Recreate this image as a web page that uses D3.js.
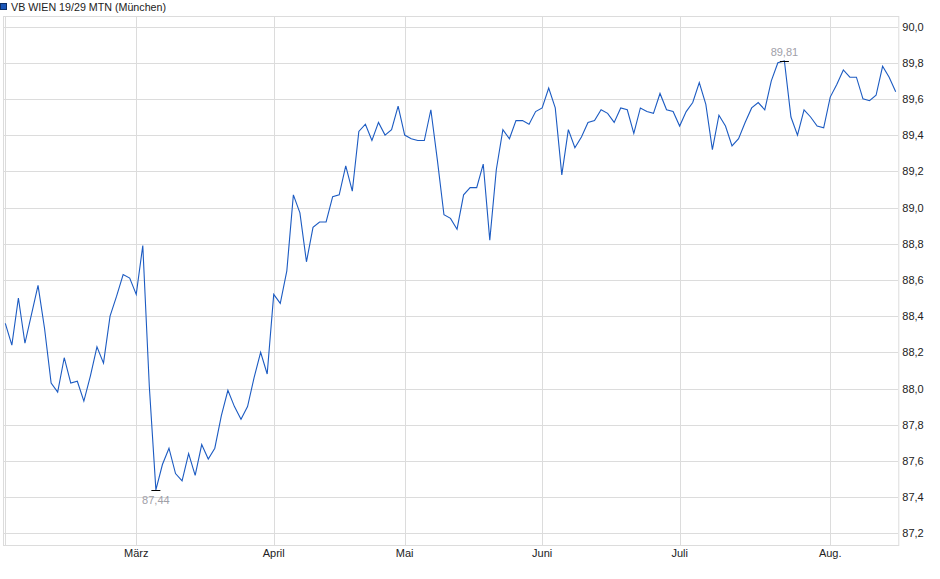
<!DOCTYPE html>
<html><head><meta charset="utf-8">
<script src="https://cdn.jsdelivr.net/npm/d3@7"></script>
<style>
html,body{margin:0;padding:0;background:#fff;}
svg{display:block;font-family:Arial,"Liberation Sans",sans-serif;}
</style></head>
<body>
<svg id="chart" width="940" height="579"></svg>
<script>
const title = "VB WIEN 19/29 MTN (München)";
// daily prices (trading days, Feb 3 – Aug 15)
const prices = [
88.36,88.24,88.50,88.25,88.41,88.57,88.33,88.03,87.98,88.17,
88.03,88.04,87.93,88.07,88.23,88.14,88.40,88.51,88.63,88.61,
88.52,88.79,88.01,87.44,87.58,87.67,87.53,87.49,87.64,87.52,
87.69,87.61,87.67,87.85,87.99,87.90,87.83,87.90,88.06,88.20,
88.08,88.52,88.47,88.65,89.07,88.97,88.70,88.89,88.92,88.92,
89.06,89.07,89.23,89.09,89.42,89.46,89.37,89.47,89.40,89.43,
89.56,89.40,89.38,89.37,89.37,89.54,89.26,88.96,88.94,88.88,
89.07,89.11,89.11,89.24,88.82,89.21,89.43,89.38,89.48,89.48,
89.46,89.53,89.55,89.66,89.55,89.18,89.43,89.33,89.39,89.47,
89.48,89.54,89.52,89.47,89.55,89.54,89.41,89.55,89.53,89.52,
89.63,89.54,89.53,89.45,89.53,89.58,89.69,89.57,89.32,89.51,
89.45,89.34,89.38,89.47,89.55,89.58,89.54,89.70,89.80,89.81,
89.50,89.40,89.54,89.50,89.45,89.44,89.61,89.68,89.76,89.72,
89.72,89.60,89.59,89.62,89.78,89.72,89.64
];
// month gridlines: index of first trading day of each month
const monthIdx    = [0, 20, 41, 61, 82, 103, 126];
const monthLabels = ["", "März", "April", "Mai", "Juni", "Juli", "Aug."];
const yTicks = [87.2,87.4,87.6,87.8,88.0,88.2,88.4,88.6,88.8,89.0,89.2,89.4,89.6,89.8,90.0];

const svg = d3.select("#chart");
const plot = {left:3, right:898.3, top:16, bottom:545};
const x = d3.scaleLinear().domain([0, prices.length-1]).range([5.3, 895.7]);
const y = d3.scaleLinear().domain([87.2, 90.0]).range([533.3, 26.5]);
const fmt = v => d3.format(".1f")(v).replace(".", ",");
const fmt2 = v => d3.format(".2f")(v).replace(".", ",");
const grid = "#dcdcdc";

// title
svg.append("rect").attr("x",0.5).attr("y",3.5).attr("width",6).attr("height",6)
  .attr("fill","#1a56b8").attr("stroke","#0d2f66").attr("stroke-width",1);
svg.append("text").attr("x",11).attr("y",10.5).attr("font-size",10.7).attr("fill","#222").text(title);

// plot border
svg.append("rect").attr("x",plot.left+0.5).attr("y",plot.top+0.5)
  .attr("width",plot.right-plot.left).attr("height",plot.bottom-plot.top)
  .attr("fill","none").attr("stroke",grid);

// horizontal grid
const yAxis = d3.axisRight(y).tickValues(yTicks).tickSize(-(plot.right-plot.left)).tickFormat(fmt).tickPadding(4);
const gy = svg.append("g").attr("transform",`translate(${plot.right},0)`).call(yAxis);
gy.select(".domain").remove();
gy.selectAll(".tick line").attr("stroke",grid).attr("shape-rendering","crispEdges");
gy.selectAll(".tick text").attr("font-size",11).attr("fill","#222").attr("font-family","Arial, 'Liberation Sans', sans-serif");

// vertical grid + month labels
const gx = svg.append("g");
gx.selectAll("line").data(monthIdx).join("line")
  .attr("x1",d=>Math.round(x(d))+0.5).attr("x2",d=>Math.round(x(d))+0.5)
  .attr("y1",plot.top).attr("y2",plot.bottom)
  .attr("stroke",grid);
gx.selectAll("text").data(monthIdx).join("text")
  .attr("x",d=>x(d)).attr("y",557).attr("text-anchor","middle")
  .attr("font-size",11).attr("fill","#222")
  .text((d,i)=>monthLabels[i]);

// line
const line = d3.line().x((d,i)=>x(i)).y(d=>y(d));
svg.append("path").datum(prices).attr("d",line)
  .attr("fill","none").attr("stroke","#1c5bc2").attr("stroke-width",1.1);

// min / max markers
const iMin = d3.minIndex(prices), iMax = d3.maxIndex(prices);
[[iMin, 1],[iMax,-1]].forEach(([i,dir])=>{
  svg.append("line").attr("x1",x(i)-4.5).attr("x2",x(i)+4.5)
    .attr("y1",Math.round(y(prices[i]))+0.5).attr("y2",Math.round(y(prices[i]))+0.5)
    .attr("stroke","#000").attr("stroke-width",1);
  svg.append("text").attr("x",x(i)).attr("y", dir>0 ? y(prices[i])+14 : y(prices[i])-4.5)
    .attr("text-anchor","middle").attr("font-size",11).attr("fill","#a0a0a8")
    .text(fmt2(prices[i]));
});
</script>
</body></html>
